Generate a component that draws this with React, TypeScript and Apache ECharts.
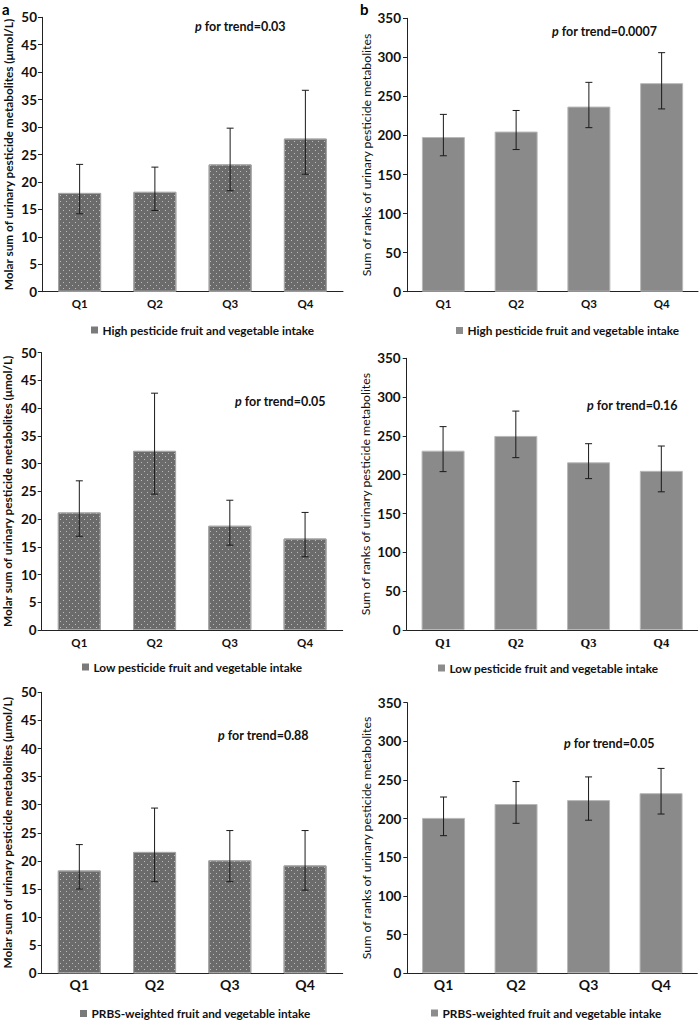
import React, { useEffect, useRef } from "react";
import * as echarts from "echarts";

// ---------- data ----------
const categories = ["Q1", "Q2", "Q3", "Q4"];

const highMolarMean = [18.0, 18.2, 23.2, 27.9];
const highMolarLow = [14.2, 14.8, 18.4, 21.4];
const highMolarHigh = [23.2, 22.7, 29.8, 36.7];
const highRankMean = [198, 205, 237, 267];
const highRankLow = [174, 182, 210, 234];
const highRankHigh = [227, 232, 268, 306];

const lowMolarMean = [21.2, 32.3, 18.8, 16.5];
const lowMolarLow = [16.9, 24.5, 15.3, 13.2];
const lowMolarHigh = [26.9, 42.7, 23.4, 21.2];
const lowRankMean = [231, 250, 216, 205];
const lowRankLow = [204, 222, 195, 178];
const lowRankHigh = [262, 282, 240, 237];

const prbsMolarMean = [18.3, 21.6, 20.1, 19.2];
const prbsMolarLow = [15.0, 16.3, 16.3, 14.8];
const prbsMolarHigh = [22.9, 29.4, 25.4, 25.4];
const prbsRankMean = [201, 219, 224, 233];
const prbsRankLow = [178, 194, 198, 206];
const prbsRankHigh = [228, 248, 254, 265];

const molarAxis = { min: 0, max: 50, interval: 5 };
const rankAxis = { min: 0, max: 350, interval: 50 };

const molarTitle = "Molar sum of urinary pesticide metabolites (\u03bcmol/L)";
const rankTitle = "Sum of ranks of urinary pesticide metabolites";

const pTrendMolar = ["0.03", "0.05", "0.88"];
const pTrendRank = ["0.0007", "0.16", "0.05"];

const legendLabels = [
  "High pesticide fruit and vegetable intake",
  "Low pesticide fruit and vegetable intake",
  "PRBS-weighted fruit and vegetable intake",
];

// ---------- layout ----------
const FONT = "Lato";
const SERIF = "Liberation Serif";

type Panel = {
  kind: "molar" | "rank";
  mean: number[];
  low: number[];
  high: number[];
  p: string;
  legend: string;
  grid: { left: number; top: number; width: number; height: number };
  pPos: [number, number];
  legendPos: [number, number];
  catFont: number;
  catFamily: string;
  catMargin: number;
};

const panels: Panel[] = [
  {
    kind: "molar", mean: highMolarMean, low: highMolarLow, high: highMolarHigh,
    p: pTrendMolar[0], legend: legendLabels[0],
    grid: { left: 42, top: 17.3, width: 301, height: 274.4 },
    pPos: [195, 26], legendPos: [91, 330], catFont: 11.5, catFamily: FONT, catMargin: 6,
  },
  {
    kind: "rank", mean: highRankMean, low: highRankLow, high: highRankHigh,
    p: pTrendRank[0], legend: legendLabels[0],
    grid: { left: 407, top: 18.3, width: 291, height: 273.4 },
    pPos: [552, 31.5], legendPos: [456, 330.5], catFont: 11.5, catFamily: FONT, catMargin: 6,
  },
  {
    kind: "molar", mean: lowMolarMean, low: lowMolarLow, high: lowMolarHigh,
    p: pTrendMolar[1], legend: legendLabels[1],
    grid: { left: 41.7, top: 352.7, width: 301, height: 277.3 },
    pPos: [235, 401], legendPos: [82, 667], catFont: 11.5, catFamily: FONT, catMargin: 6,
  },
  {
    kind: "rank", mean: lowRankMean, low: lowRankLow, high: lowRankHigh,
    p: pTrendRank[1], legend: legendLabels[1],
    grid: { left: 406.7, top: 358.3, width: 291, height: 271.7 },
    pPos: [587, 405], legendPos: [438, 668], catFont: 12.5, catFamily: SERIF, catMargin: 6,
  },
  {
    kind: "molar", mean: prbsMolarMean, low: prbsMolarLow, high: prbsMolarHigh,
    p: pTrendMolar[2], legend: legendLabels[2],
    grid: { left: 41.7, top: 692.3, width: 301, height: 281 },
    pPos: [218, 735], legendPos: [80, 1013.5], catFont: 14, catFamily: FONT, catMargin: 4,
  },
  {
    kind: "rank", mean: prbsRankMean, low: prbsRankLow, high: prbsRankHigh,
    p: pTrendRank[2], legend: legendLabels[2],
    grid: { left: 407.3, top: 702.7, width: 290, height: 270.6 },
    pPos: [564, 743.3], legendPos: [431, 1013], catFont: 14, catFamily: FONT, catMargin: 4,
  },
];

const MOLAR_BAR = "#6b6b6b";
const MOLAR_EDGE = "#a3a3a3";
const RANK_BAR = "#8a8a8a";
const RANK_EDGE = "#b8b8b8";

function buildOption() {
  const grid: any[] = [];
  const xAxis: any[] = [];
  const yAxis: any[] = [];
  const series: any[] = [];
  const graphic: any[] = [];

  panels.forEach((pn, i) => {
    const molar = pn.kind === "molar";
    grid.push({ ...pn.grid, containLabel: false });
    xAxis.push({
      type: "category",
      gridIndex: i,
      data: categories,
      axisLine: { show: true, lineStyle: { color: "#222", width: 1 } },
      axisTick: { show: false },
      axisLabel: {
        color: "#111",
        fontFamily: pn.catFamily,
        fontWeight: "bold",
        fontSize: pn.catFont,
        margin: pn.catMargin,
      },
      splitLine: { show: false },
    });
    const ax = molar ? molarAxis : rankAxis;
    yAxis.push({
      type: "value",
      gridIndex: i,
      min: ax.min,
      max: ax.max,
      interval: ax.interval,
      axisLine: { show: true, lineStyle: { color: "#222", width: 1 } },
      axisTick: { show: true, length: 4, lineStyle: { color: "#222" } },
      splitLine: { show: false },
      axisLabel: {
        color: "#111",
        fontFamily: FONT,
        fontWeight: "bold",
        fontSize: 13.5,
        margin: molar ? 5 : 6,
      },
      name: molar ? molarTitle : rankTitle,
      nameLocation: "middle",
      nameGap: molar ? 28 : 35,
      nameTextStyle: {
        color: "#111",
        fontFamily: FONT,
        fontWeight: molar ? "bold" : "normal",
        fontSize: molar ? 11.8 : 12.3,
      },
    });

    series.push({
      type: "bar",
      name: pn.legend,
      xAxisIndex: i,
      yAxisIndex: i,
      data: pn.mean,
      barWidth: 43,
      itemStyle: molar
        ? {
            color: MOLAR_BAR,
            borderColor: MOLAR_EDGE,
            borderWidth: 1,
            decal: {
              symbol: "rect",
              symbolSize: 1,
              color: "rgba(255,255,255,0.55)",
              dashArrayX: [[1, 5], [0, 3, 1, 2]],
              dashArrayY: [1, 2],
            },
          }
        : { color: RANK_BAR, borderColor: RANK_EDGE, borderWidth: 1 },
      silent: true,
    });

    series.push({
      type: "custom",
      xAxisIndex: i,
      yAxisIndex: i,
      data: categories.map((_, k) => [k, pn.low[k], pn.high[k]]),
      encode: { x: 0, y: [1, 2] },
      z: 10,
      silent: true,
      renderItem: (params: any, api: any) => {
        const x = api.value(0);
        const lo = api.coord([x, api.value(1)]);
        const hi = api.coord([x, api.value(2)]);
        const hw = 3.5;
        const st = { stroke: "#1a1a1a", lineWidth: 1 };
        return {
          type: "group",
          children: [
            { type: "line", shape: { x1: hi[0], y1: hi[1], x2: lo[0], y2: lo[1] }, style: st },
            { type: "line", shape: { x1: hi[0] - hw, y1: hi[1], x2: hi[0] + hw, y2: hi[1] }, style: st },
            { type: "line", shape: { x1: lo[0] - hw, y1: lo[1], x2: lo[0] + hw, y2: lo[1] }, style: st },
          ],
        };
      },
    });

    // p for trend
    graphic.push({
      type: "text",
      x: pn.pPos[0],
      y: pn.pPos[1],
      silent: true,
      style: {
        text: "{i|p} for trend=" + pn.p,
        fill: "#111",
        fontFamily: FONT,
        fontWeight: "bold",
        fontSize: 12.5,
        align: "left",
        verticalAlign: "middle",
        rich: {
          i: { fontStyle: "italic", fontWeight: "bold", fontSize: 12.5, fontFamily: FONT, fill: "#111" },
        },
      },
    });

    // legend
    graphic.push({
      type: "rect",
      silent: true,
      shape: { x: pn.legendPos[0], y: pn.legendPos[1] - 3.5, width: 7, height: 7 },
      style: { fill: molar ? "#7a7a7a" : "#8c8c8c" },
    });
    graphic.push({
      type: "text",
      silent: true,
      x: pn.legendPos[0] + 11.5,
      y: pn.legendPos[1],
      style: {
        text: pn.legend,
        fill: "#111",
        fontFamily: FONT,
        fontWeight: "bold",
        fontSize: 11.8,
        align: "left",
        verticalAlign: "middle",
      },
    });
  });

  graphic.push({
    type: "text",
    silent: true,
    x: 2,
    y: 1,
    style: { text: "a", fill: "#000", fontFamily: FONT, fontWeight: "bold", fontSize: 15, align: "left", verticalAlign: "top" },
  });
  graphic.push({
    type: "text",
    silent: true,
    x: 360,
    y: 1,
    style: { text: "b", fill: "#000", fontFamily: FONT, fontWeight: "bold", fontSize: 15, align: "left", verticalAlign: "top" },
  });

  return {
    animation: false,
    backgroundColor: "#ffffff",
    grid,
    xAxis,
    yAxis,
    series,
    graphic,
  };
}

export default function App() {
  const ref = useRef<HTMLDivElement>(null);
  useEffect(() => {
    if (!ref.current) return;
    const chart = echarts.init(ref.current, undefined, { renderer: "svg" });
    chart.setOption(buildOption() as any);
    return () => chart.dispose();
  }, []);
  return (
    <div
      ref={ref}
      style={{ position: "absolute", left: 0, top: 0, width: 700, height: 1020, background: "#fff" }}
    />
  );
}
